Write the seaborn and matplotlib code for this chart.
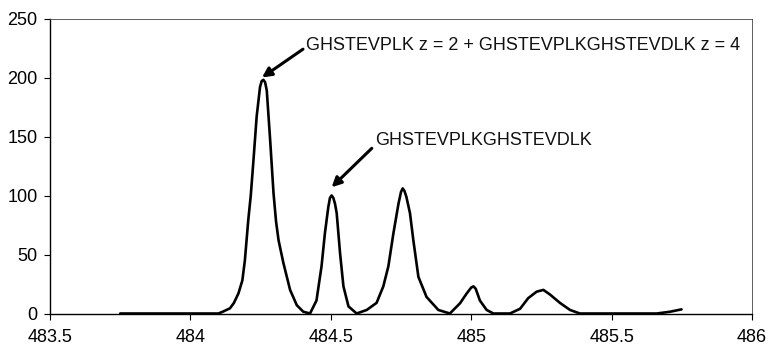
import matplotlib
matplotlib.use("Agg")
import matplotlib.pyplot as plt
import seaborn as sns
import pandas as pd

# m/z values
mz = [483.75, 484.10, 484.115, 484.141, 484.155, 484.171, 484.185, 484.194, 484.206,
      484.215, 484.224, 484.236, 484.248, 484.254, 484.26, 484.266, 484.272, 484.284,
      484.296, 484.305, 484.314, 484.331, 484.355, 484.379, 484.402, 484.426, 484.449,
      484.467, 484.479, 484.491, 484.497, 484.503, 484.509, 484.515, 484.521, 484.533,
      484.545, 484.563, 484.592, 484.628, 484.663, 484.687, 484.705, 484.723, 484.741,
      484.750, 484.756, 484.762, 484.769, 484.782, 484.794, 484.812, 484.841, 484.883,
      484.924, 484.96, 484.984, 485.0, 485.008, 485.016, 485.031, 485.055, 485.079,
      485.138, 485.174, 485.203, 485.233, 485.257, 485.281, 485.316, 485.352, 485.387,
      485.661, 485.708, 485.749]
# intensities
intensity = [0, 0, 1.5, 4.4, 9, 17, 28, 45, 79,
             100, 128, 167, 192, 197, 198, 196, 189, 147,
             102, 78, 62, 43, 20, 7, 1.5, 0, 11,
             40, 68, 90, 98, 100, 98, 93, 85, 51,
             23, 6, 0, 3, 9, 23, 40, 68, 93,
             103, 106, 104, 99, 85, 62, 31, 14, 3,
             0, 8.6, 17, 22, 23, 21, 11, 3, 0,
             0, 4, 13, 18.5, 20, 16, 9, 3, 0,
             0, 1.5, 3.5]

x_ticks = [483.5, 484.0, 484.5, 485.0, 485.5, 486.0]
x_tick_labels = ["483.5", "484", "484.5", "485", "485.5", "486"]
y_ticks = [0, 50, 100, 150, 200, 250]
y_tick_labels = ["0", "50", "100", "150", "200", "250"]

label_main = "GHSTEVPLK z = 2 + GHSTEVPLKGHSTEVDLK z = 4"
label_second = "GHSTEVPLKGHSTEVDLK"

sns.set_style("ticks")
plt.rcParams["font.family"] = ["Liberation Sans", "DejaVu Sans"]

df = pd.DataFrame({"mz": mz, "intensity": intensity})

fig = plt.figure(figsize=(7.71, 3.47), dpi=100)
ax = fig.add_axes([50 / 771, 1 - 313.5 / 347, (752 - 50) / 771, (313.5 - 18.5) / 347])

sns.lineplot(data=df, x="mz", y="intensity", ax=ax, color="black", linewidth=1.9,
             estimator=None, sort=True)

ax.set_xlim(483.5, 486.0)
ax.set_ylim(0, 250)
ax.set_xticks(x_ticks)
ax.set_xticklabels(x_tick_labels)
ax.set_yticks(y_ticks)
ax.set_yticklabels(y_tick_labels)
ax.set_xlabel("")
ax.set_ylabel("")
for s in ax.spines.values():
    s.set_visible(True)
    s.set_linewidth(1.0)
    s.set_color("black")
ax.spines["top"].set_linewidth(0.6)
ax.spines["right"].set_linewidth(0.6)
ax.spines["top"].set_color("#444444")
ax.spines["right"].set_color("#444444")
ax.tick_params(axis="x", direction="out", length=4, width=0.8, pad=7.5, labelsize=13, colors="black")
ax.tick_params(axis="y", direction="out", length=4, width=0.8, pad=5, labelsize=13, colors="black")

arrow = dict(arrowstyle="-|>", color="black", lw=2.2, mutation_scale=14, shrinkA=0, shrinkB=0)
ax.annotate("", xy=(484.255, 200), xytext=(484.401, 224), arrowprops=arrow)
ax.text(484.412, 227, label_main, ha="left", va="center", fontsize=13, color="#111111")

ax.annotate("", xy=(484.503, 107), xytext=(484.646, 140), arrowprops=arrow)
ax.text(484.657, 147, label_second, ha="left", va="center", fontsize=13, color="#111111")

fig.savefig("out.png", dpi=100, facecolor="white")
